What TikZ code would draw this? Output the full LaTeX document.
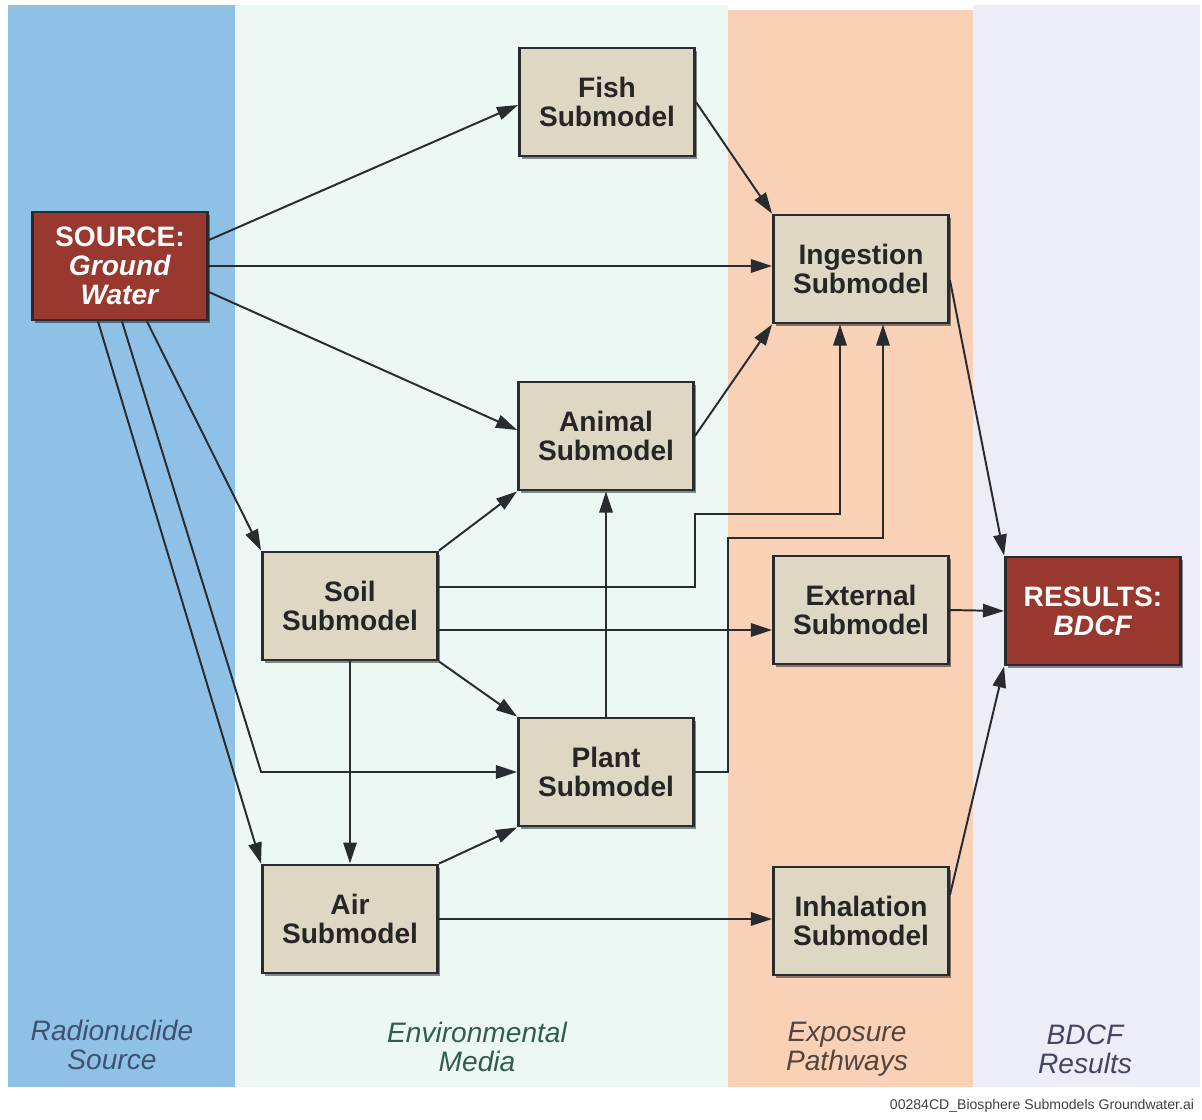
\documentclass[tikz,border=0pt]{standalone}
\usepackage{fontspec}
\setmainfont{Liberation Sans}
\usetikzlibrary{arrows.meta,shadows,calc}

\definecolor{SrcBlue}{RGB}{143,193,230}
\definecolor{MediaMint}{RGB}{235,248,244}
\definecolor{PathPeach}{RGB}{248,209,182}
\definecolor{ResLilac}{RGB}{237,237,247}
\definecolor{BoxTan}{RGB}{222,215,195}
\definecolor{BoxRed}{RGB}{152,56,46}
\definecolor{EdgeGray}{RGB}{40,44,46}
\definecolor{RadText}{RGB}{62,82,112}
\definecolor{EnvText}{RGB}{52,92,78}
\definecolor{ExpText}{RGB}{86,68,60}
\definecolor{BdcfText}{RGB}{66,70,98}

\begin{document}
\begin{tikzpicture}[x=0.025cm,y=-0.025cm]
        \tikzset{
            BoxStyle/.style = {
                shape = rectangle,
                draw = EdgeGray,
                line width = 2pt,
                fill = BoxTan,
                text = black!85,
                align = center,
                inner sep = 0pt,
                minimum width = 4.375cm,
                minimum height = 2.7cm,
                font = \fontsize{20}{20.5}\selectfont\bfseries,
                drop shadow = {shadow xshift = 2pt, shadow yshift = -2pt,
                               opacity = 0.45, fill = black}},
            SourceStyle/.style = {BoxStyle, fill = BoxRed, text = white},
            EdgeStyle/.style = {
                draw = EdgeGray,
                line width = 1.4pt,
                -{Triangle[length = 15pt, width = 9.5pt]}},
            ColLabel/.style = {
                align = center,
                font = \fontsize{20}{20.5}\selectfont\itshape}
                }
    \useasboundingbox (0,0) rectangle (1202,1119);
    \fill[white] (0,0) rectangle (1202,1119);
    \fill[SrcBlue] (8,5) rectangle (235,1087);
    \fill[MediaMint] (235,5) rectangle (728,1087);
    \fill[PathPeach] (728,10) rectangle (973,1087);
    \fill[ResLilac] (973,5) rectangle (1200,1087);
    \node[SourceStyle] (src) at (120,266) {SOURCE:\\\textit{Ground}\\\textit{Water}};
    \node[BoxStyle] (fish) at (607,102) {Fish\\Submodel};
    \node[BoxStyle] (ing) at (861,269) {Ingestion\\Submodel};
    \node[BoxStyle] (ani) at (606,436) {Animal\\Submodel};
    \node[BoxStyle] (soil) at (350,606) {Soil\\Submodel};
    \node[BoxStyle] (ext) at (861,610) {External\\Submodel};
    \node[SourceStyle] (res) at (1093,611) {RESULTS:\\\textit{BDCF}};
    \node[BoxStyle] (plant) at (606,772) {Plant\\Submodel};
    \node[BoxStyle] (air) at (350,919) {Air\\Submodel};
    \node[BoxStyle] (inh) at (861,921) {Inhalation\\Submodel};
    \coordinate (soilExt) at ($(soil.east)+(0,24)$);
        \draw[EdgeStyle] ($(src.east)+(0,-26)$) -- ($(fish.west)+(0,3)$);
        \draw[EdgeStyle] (src.east) -- (src.east -| ing.west);
        \draw[EdgeStyle] ($(src.east)+(0,26)$) -- ($(ani.west)+(0,-6)$);
        \draw[EdgeStyle] ($(src.south)+(27,0)$) -- (soil.north west);
        \draw[EdgeStyle] ($(src.south)+(2,0)$) -- (soil.west |- plant.west) -- (plant.west);
        \draw[EdgeStyle] ($(src.south)+(-22,0)$) -- (air.north west);
        \draw[EdgeStyle] (fish.east) -- (ing.north west);
        \draw[EdgeStyle] (ani.east) -- (ing.south west);
        \draw[EdgeStyle] (soil.north east) -- (ani.south west);
        \draw[EdgeStyle] ($(soil.east)+(0,-19)$) -| ($(ani.south east)+(0,23)$) -| ($(ing.south)+(-21,0)$);
        \draw[EdgeStyle] (soilExt) -- (soilExt -| ext.west);
        \draw[EdgeStyle] (soil.south east) -- (plant.north west);
        \draw[EdgeStyle] (soil.south) -- (air.north);
        \draw[EdgeStyle] (plant.north) -- (ani.south);
        \draw[EdgeStyle] (plant.east) -| ($(plant.east)+(33,-234)$) -| ($(ing.south)+(22,0)$);
        \draw[EdgeStyle] (air.north east) -- (plant.south west);
        \draw[EdgeStyle] (air.east) -- (air.east -| inh.west);
        \draw[EdgeStyle] ($(ing.east)+(0,11)$) -- (res.north west);
        \draw[EdgeStyle] (ext.east) -- (res.west);
        \draw[EdgeStyle] ($(inh.east)+(0,-26)$) -- (res.south west);
    \node[ColLabel, text = RadText] (radlab) at (112,1045) {Radionuclide\\Source};
    \node[ColLabel, text = EnvText] (envlab) at (477,1047) {Environmental\\Media};
    \node[ColLabel, text = ExpText] (explab) at (847,1049) {Exposure\\Pathways};
    \node[ColLabel, text = BdcfText] (bdcflab) at (1085,1049) {BDCF\\Results};
    \node[anchor = east, text = black!75, font = \fontsize{10}{12}\selectfont] (tag)
        at (1199,1106) {00284CD\_Biosphere Submodels Groundwater.ai};
    \end{tikzpicture}
\end{document}
